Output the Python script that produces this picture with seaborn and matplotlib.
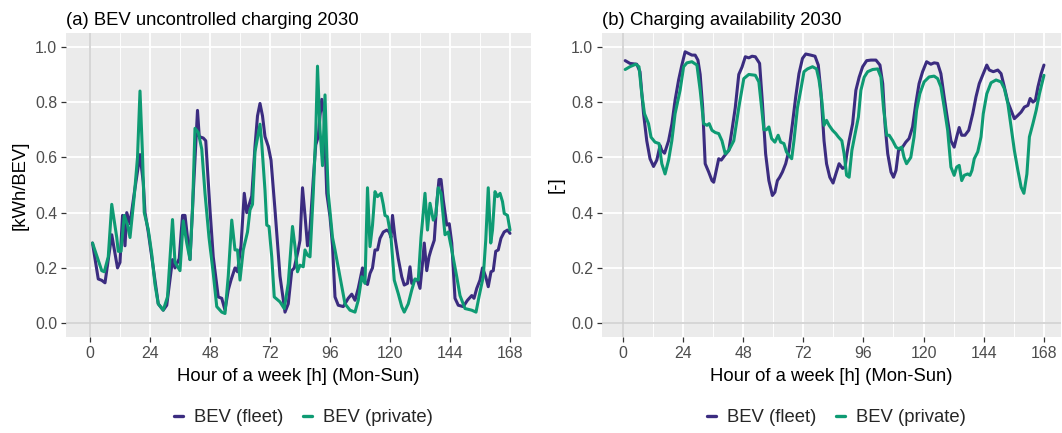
import matplotlib
matplotlib.use("Agg")
import matplotlib.pyplot as plt
import numpy as np
import pandas as pd
import seaborn as sns
from matplotlib.lines import Line2D
from matplotlib.ticker import MultipleLocator, FixedLocator

# ---------------- data ----------------
series_names = ["BEV (fleet)", "BEV (private)"]

# (a) BEV uncontrolled charging 2030 [kWh/BEV]
a_fleet_h = [1, 3.3, 4.7, 6, 8.7, 11, 12, 13, 14, 14.7, 16, 17.7, 20, 21.3, 22, 23.3, 27.3, 29.3, 30.7, 33, 34,
             35.7, 37, 38, 40, 41.3, 43, 43.7, 45.3, 46.3, 48, 49.3, 51.3, 52.7, 54, 55.3, 56.4, 58, 59, 60.4,
             61.7, 62.7, 64.7, 66, 67, 68, 69, 70, 71.3, 72.4, 74, 76, 78, 79.3, 80.7, 81.7, 83.3, 84, 85, 86,
             87, 88, 89.3, 90.3, 91.3, 92, 92.7, 93.6, 94.7, 96, 97, 98, 99.3, 101.3, 103.3, 104.7, 106, 107.3,
             109, 110, 111, 112, 113, 114, 115, 116, 117.3, 118.7, 119.7, 120.4, 121, 122, 123.3, 124.7, 125.7,
             127, 128, 128.7, 130, 131, 132, 133, 133.7, 134.7, 135.6, 136.4, 137.7, 138.7, 139.6, 140.4, 141.3,
             142.7, 143.7, 144.7, 146, 147.3, 149.3, 151, 152.7, 153.6, 154.7, 156, 157, 158.3, 159.3, 160.4,
             161.3, 162.3, 163.3, 164.4, 165.7, 167, 168]
a_fleet_v = [0.29, 0.16, 0.155, 0.146, 0.32, 0.20, 0.22, 0.39, 0.28, 0.40, 0.36, 0.47, 0.61, 0.51, 0.40, 0.33,
             0.07, 0.047, 0.065, 0.23, 0.20, 0.234, 0.39, 0.39, 0.23, 0.47, 0.77, 0.675, 0.67, 0.66, 0.41, 0.24,
             0.095, 0.09, 0.047, 0.12, 0.156, 0.20, 0.186, 0.28, 0.47, 0.40, 0.46, 0.64, 0.75, 0.795, 0.75, 0.675,
             0.64, 0.59, 0.41, 0.17, 0.04, 0.07, 0.19, 0.20, 0.265, 0.30, 0.49, 0.39, 0.28, 0.34, 0.52, 0.645,
             0.675, 0.75, 0.81, 0.76, 0.47, 0.385, 0.28, 0.095, 0.065, 0.06, 0.09, 0.105, 0.083, 0.126, 0.20,
             0.15, 0.14, 0.18, 0.20, 0.265, 0.265, 0.307, 0.33, 0.337, 0.33, 0.31, 0.39, 0.31, 0.234, 0.168,
             0.138, 0.144, 0.204, 0.144, 0.156, 0.156, 0.126, 0.216, 0.29, 0.19, 0.24, 0.265, 0.30, 0.434, 0.52,
             0.52, 0.446, 0.355, 0.36, 0.29, 0.09, 0.065, 0.06, 0.083, 0.10, 0.09, 0.126, 0.156, 0.20, 0.168,
             0.132, 0.186, 0.19, 0.26, 0.265, 0.307, 0.33, 0.337, 0.325]
a_priv_h = [1, 4.7, 5.7, 7.3, 8.7, 10.7, 11.3, 12.4, 13.7, 15, 16, 17.7, 19, 20, 21, 21.7, 23.3, 24.7, 26, 27.3,
            29.3, 31, 33, 34, 36, 37.3, 38.7, 40, 41, 42, 43.3, 44.7, 46, 47.6, 49.3, 50.7, 52.7, 54, 55.3, 56.7,
            58, 59, 60, 61.3, 63, 64, 65, 66, 68, 68.7, 70, 70.7, 71.6, 72.7, 73.7, 76, 77.7, 79.3, 81, 82, 83,
            84, 85.3, 86, 87, 88, 89.3, 90.3, 91, 92, 93, 94, 94.7, 95.3, 97, 98, 100, 102, 104, 106, 107.3,
            108.7, 110, 111, 112, 113, 114, 115, 116.4, 117.3, 118, 119, 120.4, 121.7, 123.3, 124.7, 125.7,
            127.3, 128.7, 130, 131.3, 132.4, 134, 135, 136, 137.3, 138.3, 139.3, 140.4, 142, 143.3, 144.7,
            146.7, 148, 150, 152.7, 154.4, 155.7, 157.3, 158.3, 159.3, 160.3, 161, 162, 163, 164, 165, 165.7,
            167, 168]
a_priv_v = [0.29, 0.19, 0.186, 0.24, 0.43, 0.31, 0.26, 0.26, 0.39, 0.355, 0.31, 0.46, 0.60, 0.84, 0.61, 0.40,
            0.34, 0.25, 0.14, 0.07, 0.047, 0.095, 0.375, 0.22, 0.19, 0.37, 0.29, 0.23, 0.41, 0.705, 0.69, 0.63,
            0.47, 0.31, 0.18, 0.06, 0.04, 0.035, 0.17, 0.373, 0.265, 0.265, 0.156, 0.265, 0.33, 0.41, 0.43,
            0.62, 0.72, 0.65, 0.48, 0.355, 0.35, 0.24, 0.095, 0.077, 0.053, 0.144, 0.35, 0.277, 0.186, 0.21,
            0.204, 0.265, 0.246, 0.24, 0.47, 0.687, 0.93, 0.70, 0.57, 0.826, 0.615, 0.47, 0.31, 0.265, 0.168,
            0.07, 0.047, 0.04, 0.083, 0.168, 0.144, 0.49, 0.277, 0.355, 0.476, 0.458, 0.47, 0.43, 0.39, 0.385,
            0.31, 0.156, 0.107, 0.06, 0.04, 0.07, 0.12, 0.16, 0.156, 0.31, 0.47, 0.337, 0.434, 0.373, 0.39,
            0.49, 0.47, 0.32, 0.33, 0.265, 0.168, 0.10, 0.053, 0.047, 0.04, 0.10, 0.168, 0.30, 0.49, 0.29,
            0.337, 0.476, 0.458, 0.47, 0.44, 0.397, 0.39, 0.337]

# (b) Charging availability 2030 [-]
b_fleet_h = [1, 2.9, 5.6, 6.9, 8.3, 9.6, 10.9, 12.3, 13.6, 14.9, 15.6, 16.7, 18.3, 19.6, 20.9, 22.3, 23.6, 24.9,
             26.3, 27.6, 28.9, 30, 30.9, 31.9, 32.9, 34.3, 35.6, 36.3, 37.6, 38.3, 39.3, 40.7, 42.3, 43.6, 44.9,
             46.3, 47.6, 48.9, 50.3, 51.6, 52.9, 54.6, 55.7, 57, 58.3, 59.7, 60.7, 61.7, 62.6, 63.7, 65, 66.3,
             67.7, 69, 70.3, 71.7, 73, 75, 76.7, 78, 79, 80.3, 81.3, 82.6, 83.9, 85, 86.3, 87.7, 88.7, 89.3,
             90.3, 91.7, 93, 94.3, 95.7, 97.3, 99, 101, 102.6, 103.7, 104.7, 105.7, 107, 108, 109, 110, 111.6,
             112.9, 114.2, 115.6, 116.9, 118.2, 119.6, 121.2, 122.9, 124.2, 125.6, 126.9, 128.2, 129.6, 130.9,
             132.2, 133.2, 134.2, 135.2, 136.5, 138, 139.6, 140.9, 142.2, 143.8, 145.2, 146.2, 147.8, 149.6,
             150.9, 152.2, 153.6, 154.9, 156.2, 157.6, 158.9, 160.2, 161.6, 162.5, 163.6, 164.6, 165.6, 166.9,
             168]
b_fleet_v = [0.95, 0.94, 0.937, 0.91, 0.76, 0.66, 0.595, 0.567, 0.59, 0.643, 0.625, 0.615, 0.66, 0.72, 0.807,
             0.88, 0.934, 0.982, 0.976, 0.97, 0.97, 0.952, 0.90, 0.78, 0.577, 0.547, 0.516, 0.51, 0.565, 0.595,
             0.59, 0.607, 0.625, 0.70, 0.78, 0.90, 0.927, 0.964, 0.96, 0.966, 0.964, 0.94, 0.80, 0.613, 0.516,
             0.462, 0.474, 0.516, 0.528, 0.547, 0.577, 0.625, 0.722, 0.819, 0.903, 0.958, 0.974, 0.97, 0.966,
             0.934, 0.843, 0.66, 0.577, 0.528, 0.507, 0.54, 0.577, 0.56, 0.565, 0.607, 0.66, 0.722, 0.843, 0.89,
             0.928, 0.95, 0.952, 0.952, 0.934, 0.867, 0.71, 0.613, 0.547, 0.528, 0.553, 0.625, 0.637, 0.655,
             0.668, 0.71, 0.795, 0.867, 0.91, 0.946, 0.937, 0.942, 0.94, 0.903, 0.819, 0.734, 0.66, 0.637, 0.674,
             0.708, 0.68, 0.68, 0.698, 0.758, 0.819, 0.867, 0.903, 0.934, 0.916, 0.91, 0.916, 0.903, 0.855, 0.80,
             0.77, 0.74, 0.752, 0.764, 0.782, 0.788, 0.813, 0.80, 0.807, 0.855, 0.903, 0.934]
b_priv_h = [1, 2.9, 5.2, 6.5, 7.6, 8.7, 10.3, 11.3, 12.9, 14.5, 15.6, 16.9, 18.3, 19.6, 20.9, 22.9, 24.3, 25.6,
            27.6, 29.6, 30.9, 32.3, 33.6, 34.5, 35.6, 36.9, 38.3, 39.6, 40.9, 42.3, 44.3, 46.3, 48.3, 50.3, 52.9,
            54.3, 55.4, 56.3, 57.3, 58.3, 59.4, 60.7, 62, 63, 64.3, 65.3, 66.3, 67.4, 68.3, 69.7, 71, 72.3, 73.7,
            75.7, 77.3, 78.3, 79.4, 80.3, 81.3, 82.3, 83.7, 85, 86, 87.4, 88.3, 89.3, 90.3, 91.4, 92.7, 94, 95,
            96.3, 97.7, 99.7, 101.7, 103, 104, 105.3, 106.3, 107.7, 109, 110, 111.3, 112.2, 113.2, 114.9, 116.2,
            117.2, 118.5, 120.2, 122.2, 124.2, 125.6, 126.9, 128.2, 129.6, 130.9, 132.2, 133.2, 134.2, 135.2,
            136.2, 137.6, 138.5, 139.3, 140.2, 141.6, 142.9, 143.8, 145.2, 146.9, 148.9, 150.9, 152.2, 153.6,
            154.9, 156.2, 157.6, 158.9, 160, 161.2, 162.2, 163.6, 164.9, 166.2, 168]
b_priv_v = [0.918, 0.928, 0.937, 0.928, 0.83, 0.758, 0.722, 0.673, 0.655, 0.65, 0.577, 0.54, 0.59, 0.66, 0.758,
            0.843, 0.928, 0.942, 0.946, 0.934, 0.843, 0.722, 0.716, 0.722, 0.698, 0.69, 0.686, 0.66, 0.613,
            0.625, 0.66, 0.78, 0.885, 0.90, 0.897, 0.873, 0.78, 0.70, 0.70, 0.71, 0.668, 0.655, 0.68, 0.655,
            0.65, 0.62, 0.607, 0.595, 0.66, 0.78, 0.843, 0.91, 0.92, 0.928, 0.92, 0.88, 0.807, 0.716, 0.734,
            0.716, 0.698, 0.686, 0.674, 0.66, 0.613, 0.535, 0.528, 0.625, 0.686, 0.746, 0.843, 0.89, 0.91,
            0.918, 0.92, 0.89, 0.78, 0.68, 0.68, 0.66, 0.637, 0.631, 0.637, 0.60, 0.577, 0.60, 0.674, 0.77,
            0.83, 0.873, 0.891, 0.894, 0.885, 0.855, 0.782, 0.698, 0.565, 0.535, 0.565, 0.571, 0.516, 0.535,
            0.54, 0.535, 0.553, 0.595, 0.62, 0.674, 0.758, 0.83, 0.87, 0.88, 0.873, 0.849, 0.795, 0.71, 0.625,
            0.553, 0.492, 0.47, 0.54, 0.674, 0.722, 0.77, 0.83, 0.897]

x_ticks = [0, 24, 48, 72, 96, 120, 144, 168]
x_ticklabels = ["0", "24", "48", "72", "96", "120", "144", "168"]
y_ticks = [0.0, 0.2, 0.4, 0.6, 0.8, 1.0]
y_ticklabels = ["0.0", "0.2", "0.4", "0.6", "0.8", "1.0"]

titles = ["(a) BEV uncontrolled charging 2030", "(b) Charging availability 2030"]
ylabels = ["[kWh/BEV]", "[-]"]
xlabel = "Hour of a week [h] (Mon-Sun)"

colors = {"BEV (fleet)": "#3B2C80", "BEV (private)": "#0E9B73"}


def long_df(fh, fv, ph, pv):
    return pd.concat([
        pd.DataFrame({"hour": fh, "value": fv, "type": series_names[0]}),
        pd.DataFrame({"hour": ph, "value": pv, "type": series_names[1]}),
    ], ignore_index=True)


df_a = long_df(a_fleet_h, a_fleet_v, a_priv_h, a_priv_v)
df_b = long_df(b_fleet_h, b_fleet_v, b_priv_h, b_priv_v)

# ---------------- style ----------------
sns.set_theme(style="darkgrid")
plt.rcParams["font.family"] = ["Liberation Sans", "DejaVu Sans"]

W, H = 1062, 433
fig = plt.figure(figsize=(W / 100, H / 100), dpi=100)
fig.patch.set_facecolor("white")


def ax_at(l, t, r, b):
    return fig.add_axes([l / W, 1 - b / H, (r - l) / W, (b - t) / H])


ax1 = ax_at(66, 33, 531, 337)
ax2 = ax_at(602, 33, 1061, 337)
xlims = [(-9.6, 176.4), (-8.25, 174.8)]
TXT = 13.3
TICK = 11.4

for i, (ax, df) in enumerate([(ax1, df_a), (ax2, df_b)]):
    ax.set_facecolor("#EBEBEB")
    for s in ax.spines.values():
        s.set_visible(False)
    ax.set_xlim(*xlims[i])
    ax.set_ylim(-0.05, 1.05)
    ax.xaxis.set_major_locator(FixedLocator(x_ticks))
    ax.xaxis.set_minor_locator(MultipleLocator(12))
    ax.yaxis.set_major_locator(FixedLocator(y_ticks))
    ax.grid(which="major", color="white", linewidth=1.3)
    ax.grid(which="minor", axis="x", color="white", linewidth=0.65)
    ax.grid(which="minor", axis="y", visible=False)
    ax.set_axisbelow(True)
    ax.axhline(0, color="#CFCFCF", linewidth=1.2, zorder=1)
    ax.axvline(0, color="#CFCFCF", linewidth=1.2, zorder=1)

    sns.lineplot(data=df, x="hour", y="value", hue="type", palette=colors,
                 hue_order=series_names, estimator=None, linewidth=2.2,
                 legend=False, ax=ax, zorder=3)

    ax.set_xticks(x_ticks)
    ax.set_xticklabels(x_ticklabels)
    ax.set_yticks(y_ticks)
    ax.set_yticklabels(y_ticklabels)
    ax.tick_params(axis="both", which="major", length=3.8, width=0.9, color="#333333",
                   labelcolor="#4D4D4D", labelsize=TICK, pad=2.5,
                   bottom=True, left=True)
    ax.tick_params(axis="both", which="minor", length=0)
    ax.set_xlabel(xlabel, fontsize=TXT, color="black", labelpad=5)
    ax.set_ylabel(ylabels[i], fontsize=TXT, color="black", labelpad=5)

    bb = ax.get_position()
    fig.text(bb.x0, 1 - 25 / H, titles[i], fontsize=TXT, color="black",
             ha="left", va="baseline")

    handles = [Line2D([], [], color=colors[n], linewidth=2.4) for n in series_names]
    ax.legend(handles, series_names, loc="center",
              bbox_to_anchor=((bb.x0 + bb.x1) / 2 + 5 / W, 1 - 418 / H),
              bbox_transform=fig.transFigure, ncol=2, frameon=False,
              fontsize=TXT, handlelength=0.45, handletextpad=0.6,
              columnspacing=1.1)

fig.savefig("out.png", dpi=100, facecolor="white")
